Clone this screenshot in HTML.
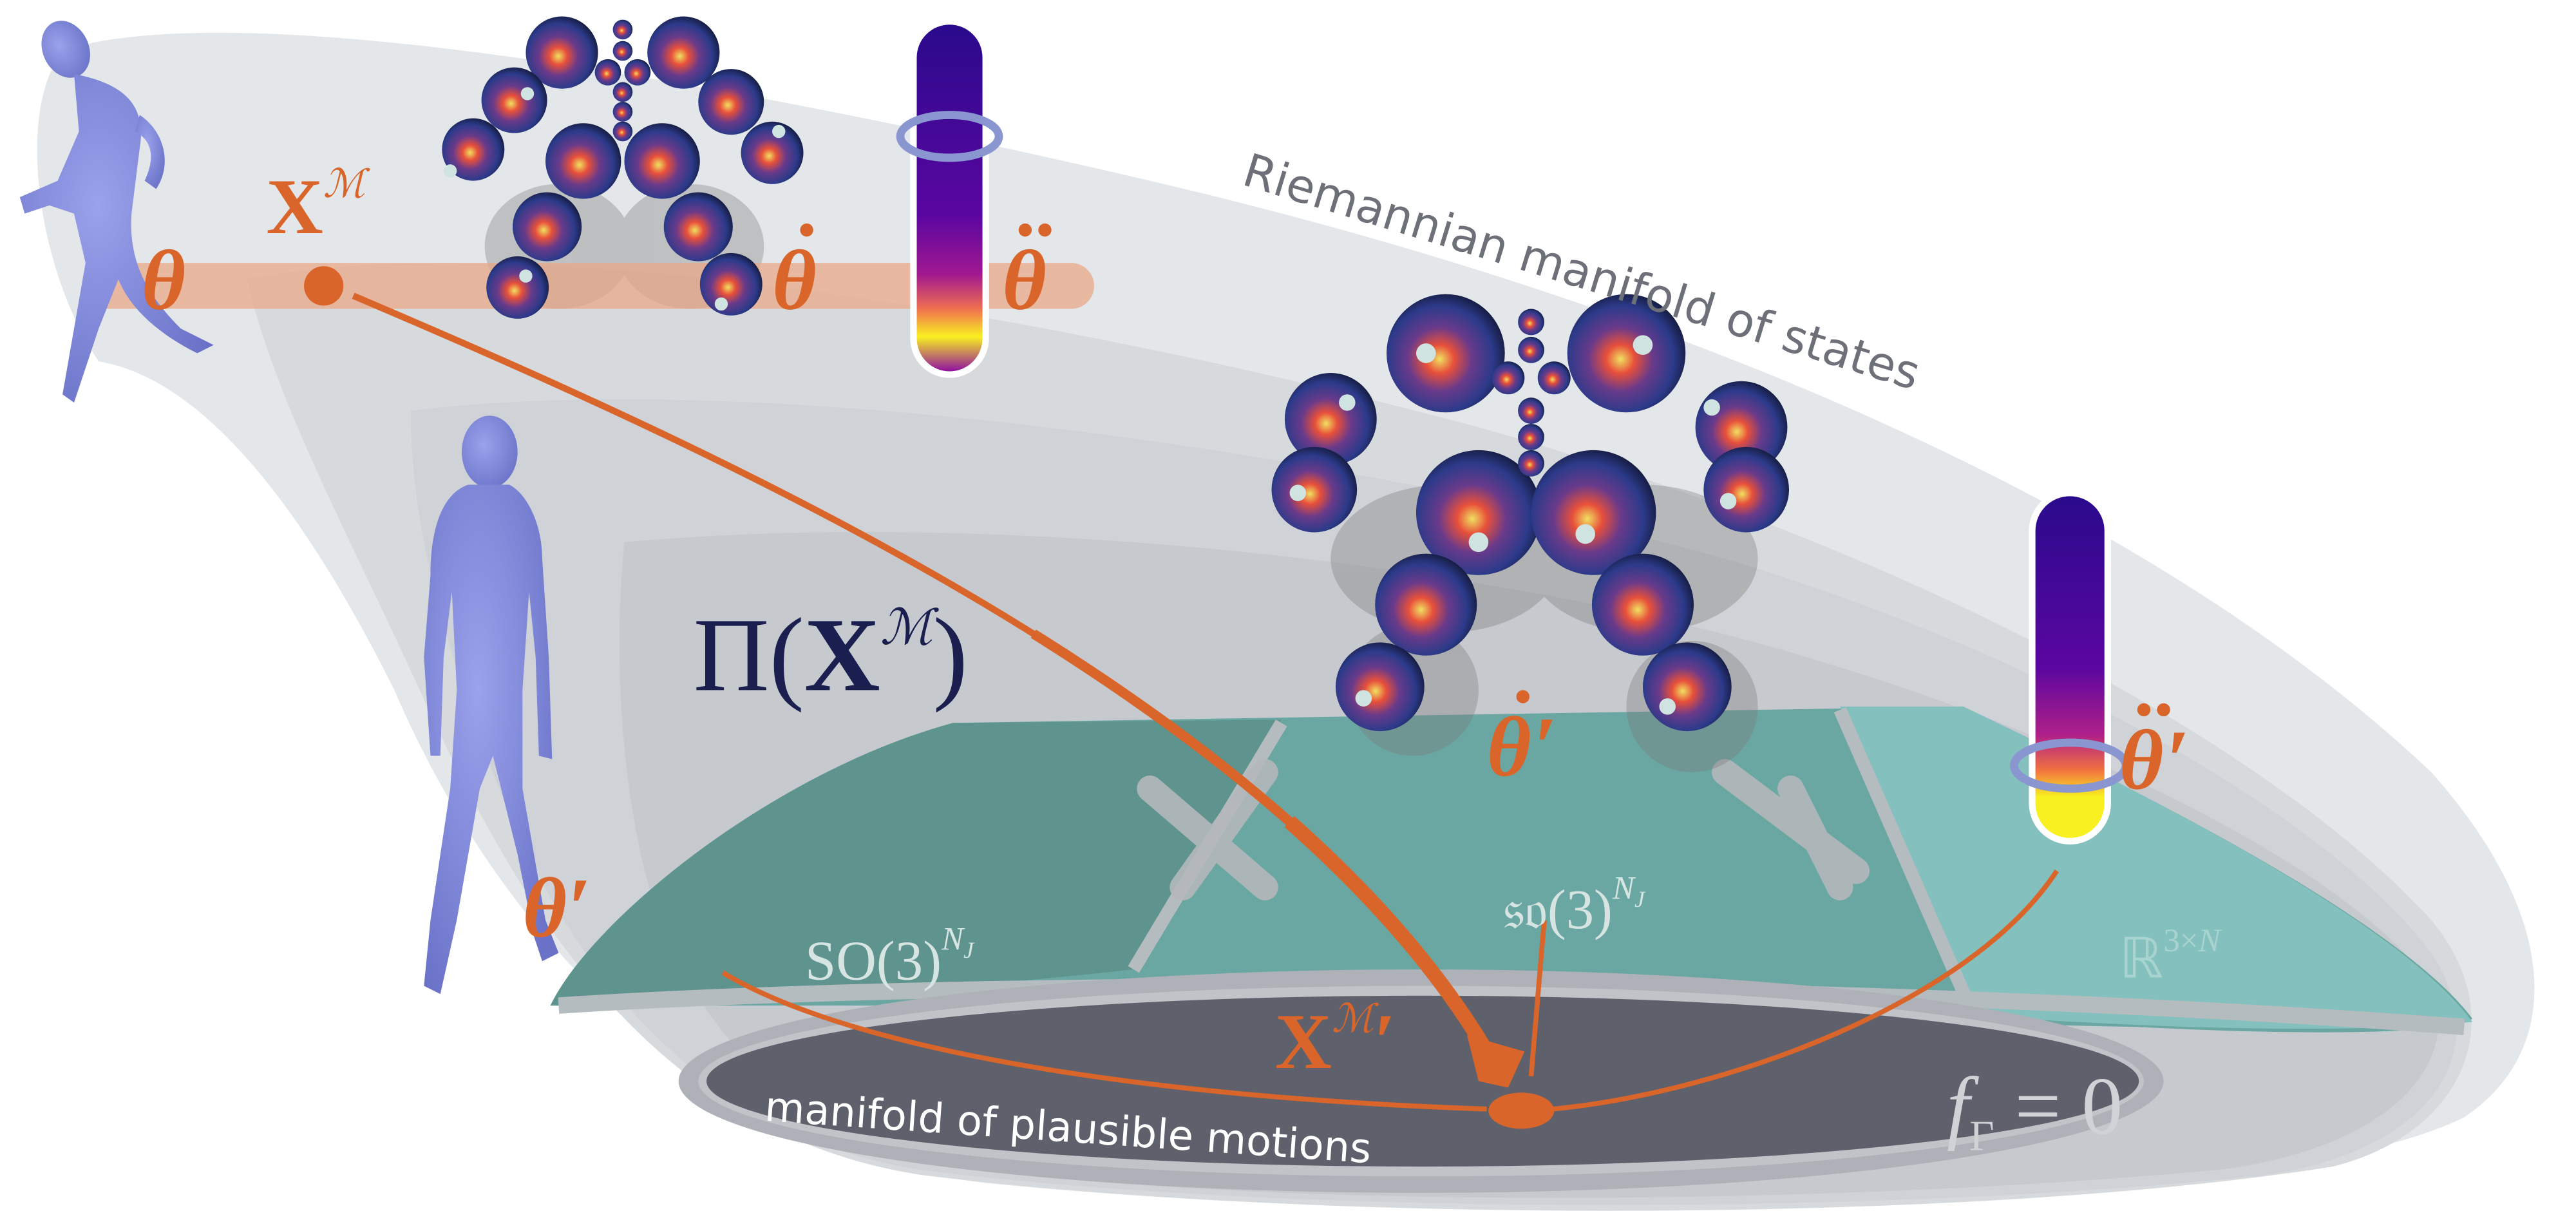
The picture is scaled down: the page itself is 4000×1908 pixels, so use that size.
<!DOCTYPE html>
<html><head><meta charset="utf-8"><style>
html,body{margin:0;padding:0;background:#fff;}
svg{display:block;}
</style></head><body>
<svg width="4000" height="1908" viewBox="0 0 1568 748" xmlns="http://www.w3.org/2000/svg">
<defs>
<radialGradient id="sph" cx="0.45" cy="0.55" r="0.6">
<stop offset="0" stop-color="#f0e060"/>
<stop offset="0.2" stop-color="#e8503a"/>
<stop offset="0.45" stop-color="#6a3a8a"/>
<stop offset="0.75" stop-color="#2c3a8a"/>
<stop offset="1" stop-color="#101630"/>
</radialGradient>
<linearGradient id="bar" x1="0" y1="0" x2="0" y2="1">
<stop offset="0" stop-color="#2a0a8c"/>
<stop offset="0.55" stop-color="#5a06a0"/>
<stop offset="0.72" stop-color="#a01890"/>
<stop offset="0.82" stop-color="#f07050"/>
<stop offset="0.9" stop-color="#f8f020"/>
<stop offset="1" stop-color="#9010a0"/>
</linearGradient>
<linearGradient id="bar2" x1="0" y1="0" x2="0" y2="1">
<stop offset="0" stop-color="#2a0a8c"/>
<stop offset="0.5" stop-color="#5a06a0"/>
<stop offset="0.7" stop-color="#b02088"/>
<stop offset="0.8" stop-color="#f07040"/>
<stop offset="0.88" stop-color="#f8f020"/>
<stop offset="1" stop-color="#f8f020"/>
</linearGradient>
<radialGradient id="body" cx="0.4" cy="0.4" r="0.7">
<stop offset="0" stop-color="#9aa2ec"/>
<stop offset="1" stop-color="#6a72c8"/>
</radialGradient>
</defs>

<!-- manifold layers -->
<path d="M40,30 C140,0 400,40 700,110 C1000,180 1300,300 1480,470 C1560,560 1560,640 1500,680 C1380,740 900,750 600,720 C420,700 300,560 240,420 C180,300 120,230 60,220 C20,160 10,60 40,30 Z" fill="#e4e7ea"/>
<path d="M150,170 C300,140 600,180 900,260 C1150,330 1380,450 1480,560 C1530,620 1500,690 1420,710 C1200,745 800,745 560,715 C400,690 320,560 260,430 C210,320 170,250 150,170 Z" fill="#d7dadd"/>
<path d="M250,250 C450,225 800,270 1050,340 C1250,400 1420,500 1480,580 C1520,640 1480,700 1380,715 C1150,740 780,740 560,712 C420,690 340,580 300,470 C270,390 250,320 250,250 Z" fill="#cfd2d6"/>
<path d="M380,330 C600,310 900,340 1100,400 C1300,460 1440,540 1480,600 C1500,650 1450,700 1350,712 C1100,735 760,735 580,710 C470,690 410,610 390,520 C375,450 375,380 380,330 Z" fill="#c6c9ce"/>
<!-- teal region -->
<path d="M335,612 C360,560 470,470 580,440 L1195,430 C1300,480 1460,560 1505,620 C1490,630 1400,630 1300,625 L700,612 Z" fill="#6aa7a2"/>
<path d="M335,612 C360,560 470,470 580,440 L780,438 L690,590 C600,600 450,612 335,612 Z" fill="#5e938e"/>
<path d="M1120,430 L1195,430 C1300,480 1460,560 1505,622 C1420,630 1300,625 1200,618 Z" fill="#84c0bd"/>
<path d="M340,612 C600,595 1100,595 1500,625" stroke="#b5bcbf" stroke-width="10" fill="none"/>
<path d="M690,590 L780,440 M1200,615 L1120,432" stroke="#b5bcbf" stroke-width="8" fill="none"/>
<!-- X icons -->
<g stroke="#b4b8bc" stroke-width="16" stroke-linecap="round" opacity="0.9">
<path d="M700,480 L770,540 M720,540 L770,470"/>
<path d="M1050,470 L1130,530 M1090,480 L1120,540"/>
</g>
<!-- plausible ellipse -->
<ellipse cx="865" cy="658" rx="452" ry="68" fill="#aeb1b7"/>
<ellipse cx="865" cy="658" rx="440" ry="58" fill="#c0c3c8"/>
<ellipse cx="866" cy="658" rx="436" ry="52" fill="#5e606c"/>

<!-- shadows -->
<g fill="#777" opacity="0.35">
<ellipse cx="340" cy="150" rx="45" ry="38"/><ellipse cx="420" cy="150" rx="45" ry="38"/>
<ellipse cx="880" cy="340" rx="70" ry="45"/><ellipse cx="1000" cy="340" rx="70" ry="45"/>
<ellipse cx="860" cy="420" rx="40" ry="40"/><ellipse cx="1030" cy="430" rx="40" ry="40"/>
</g>

<!-- orange band -->
<rect x="52" y="160" width="614" height="28" rx="14" fill="#e9a888" opacity="0.75"/>

<!-- bars -->
<rect x="554" y="11" width="48" height="219" rx="24" fill="#fff"/>
<rect x="558" y="15" width="40" height="211" rx="20" fill="url(#bar)"/>
<ellipse cx="578" cy="83" rx="30" ry="13" fill="none" stroke="#8a96d0" stroke-width="5"/>
<rect x="1235" y="298" width="50" height="216" rx="25" fill="#fff"/>
<rect x="1239" y="302" width="42" height="208" rx="21" fill="url(#bar2)"/>
<ellipse cx="1260" cy="466" rx="34" ry="14" fill="none" stroke="#8a96d0" stroke-width="5"/>

<!-- sphere cluster top -->
<g fill="url(#sph)">
<circle cx="342" cy="32" r="22"/><circle cx="416" cy="32" r="22"/>
<circle cx="313" cy="61" r="20"/><circle cx="445" cy="62" r="20"/>
<circle cx="288" cy="91" r="19"/><circle cx="470" cy="93" r="19"/>
<circle cx="355" cy="98" r="23"/><circle cx="403" cy="98" r="23"/>
<circle cx="333" cy="138" r="21"/><circle cx="425" cy="138" r="21"/>
<circle cx="315" cy="175" r="19"/><circle cx="445" cy="173" r="19"/>
<circle cx="379" cy="18" r="6"/><circle cx="379" cy="31" r="6"/>
<circle cx="370" cy="44" r="8"/><circle cx="388" cy="44" r="8"/>
<circle cx="379" cy="56" r="6"/><circle cx="379" cy="68" r="6"/><circle cx="379" cy="80" r="6"/>
</g>
<!-- big cluster -->
<g fill="url(#sph)">
<circle cx="880" cy="215" r="36"/><circle cx="990" cy="215" r="36"/>
<circle cx="810" cy="255" r="28"/><circle cx="1060" cy="260" r="28"/>
<circle cx="800" cy="298" r="26"/><circle cx="1063" cy="298" r="26"/>
<circle cx="900" cy="312" r="38"/><circle cx="970" cy="312" r="38"/>
<circle cx="868" cy="368" r="31"/><circle cx="1000" cy="368" r="31"/>
<circle cx="840" cy="418" r="27"/><circle cx="1027" cy="418" r="27"/>
<circle cx="932" cy="196" r="8"/><circle cx="932" cy="213" r="8"/>
<circle cx="918" cy="230" r="10"/><circle cx="946" cy="230" r="10"/>
<circle cx="932" cy="250" r="8"/><circle cx="932" cy="266" r="8"/><circle cx="932" cy="282" r="8"/>
</g>
<g fill="#cfe3e0">
<circle cx="868" cy="215" r="6"/><circle cx="1000" cy="210" r="6"/><circle cx="820" cy="245" r="5"/>
<circle cx="1042" cy="248" r="5"/><circle cx="790" cy="300" r="5"/><circle cx="1052" cy="305" r="5"/>
<circle cx="900" cy="330" r="6"/><circle cx="965" cy="325" r="6"/><circle cx="830" cy="425" r="5"/><circle cx="1015" cy="430" r="5"/>
<circle cx="321" cy="57" r="4"/><circle cx="474" cy="80" r="4"/><circle cx="274" cy="104" r="4"/><circle cx="320" cy="168" r="4"/><circle cx="439" cy="185" r="4"/>
</g>

<!-- human figures (stylized) -->
<g fill="url(#body)">
<ellipse cx="40" cy="30" rx="14" ry="18" transform="rotate(-25 40 30)"/>
<path d="M45,45 C70,50 90,60 85,90 L80,130 C78,160 90,180 110,200 L130,210 L120,215 C100,205 80,190 72,170 L60,200 L45,245 L38,240 L52,160 L45,130 L30,125 L15,130 L12,120 L35,110 L48,80 Z"/>
<path d="M85,70 C100,80 105,100 95,115 L88,110 C95,95 92,85 82,80 Z"/>
<ellipse cx="298" cy="275" rx="17" ry="22"/>
<path d="M285,295 C270,300 262,320 262,350 L258,400 L262,460 L268,460 L270,400 L275,360 L278,420 L274,480 L262,560 L258,600 L268,605 L278,560 L292,480 L300,460 L315,520 L325,570 L330,585 L340,580 L332,560 L318,480 L318,420 L322,360 L326,400 L328,460 L336,462 L334,400 L330,340 C330,318 320,300 310,295 Z"/>
</g>

<!-- orange connectors -->
<g fill="none" stroke="#d9652a">
<path d="M215,180 C450,280 780,430 905,640" pathLength="100" stroke-width="4"/>
<path d="M215,180 C450,280 780,430 905,640" pathLength="100" stroke-width="6" stroke-dasharray="0 55 45"/>
<path d="M215,180 C450,280 780,430 905,640" pathLength="100" stroke-width="9" stroke-dasharray="0 78 22"/>
</g>
<polygon points="893,630 928,640 918,662 900,658" fill="#d9652a"/>
<path d="M440,592 C520,640 700,668 905,675" stroke="#d9652a" stroke-width="3" fill="none"/>
<path d="M1252,530 C1200,610 1050,665 945,675" stroke="#d9652a" stroke-width="3" fill="none"/>
<path d="M940,560 L932,655" stroke="#d9652a" stroke-width="3" fill="none"/>
<ellipse cx="926" cy="676" rx="20" ry="11" fill="#d9652a"/>
<circle cx="197" cy="174" r="12" fill="#d9652a"/>

<!-- labels -->
<g font-family="Liberation Serif, serif" font-weight="bold" font-style="italic" fill="#d9652a" font-size="52">
<text x="86" y="188">θ</text>
<text x="470" y="188">θ</text><circle cx="491" cy="140" r="4"/>
<text x="610" y="188">θ</text><circle cx="624" cy="140" r="4"/><circle cx="636" cy="140" r="4"/>
<text x="318" y="570">θ′</text>
<text x="905" y="472">θ</text><circle cx="927" cy="424" r="4"/><text x="933" y="472">′</text>
<text x="1290" y="480">θ</text><circle cx="1305" cy="432" r="4"/><circle cx="1317" cy="432" r="4"/><text x="1318" y="480">′</text>
</g>
<text x="162" y="142" font-family="Liberation Serif, serif" font-weight="bold" font-size="48" fill="#d9652a">X<tspan font-size="24" font-style="italic" font-weight="normal" dy="-22">ℳ</tspan></text>
<text x="776" y="650" font-family="Liberation Serif, serif" font-weight="bold" font-size="48" fill="#d9652a">X<tspan font-size="24" font-style="italic" font-weight="normal" dy="-22">ℳ</tspan><tspan dy="22">′</tspan></text>
<text x="422" y="420" font-family="Liberation Serif, serif" font-size="64" fill="#1a1f4f">Π(<tspan font-weight="bold">X</tspan><tspan font-size="30" font-style="italic" dy="-28">ℳ</tspan><tspan dy="28">)</tspan></text>
<text x="755" y="112" font-family="DejaVu Sans, sans-serif" font-size="28" fill="#6d7079" transform="rotate(17 755 112)">Riemannian manifold of states</text>
<text x="465" y="682" font-family="DejaVu Sans, sans-serif" font-size="25" fill="#fff" transform="rotate(4 465 682)">manifold of plausible motions</text>
<text x="1185" y="690" font-family="Liberation Serif, serif" font-size="50" fill="#d0d2d6"><tspan font-style="italic">f</tspan><tspan font-size="26" dy="10">Γ</tspan><tspan dy="-10"> = 0</tspan></text>
<g font-family="Liberation Serif, serif" font-size="34" fill="#d6e4e2">
<text x="490" y="596">SO(3)<tspan font-size="20" font-style="italic" dy="-18">N<tspan font-size="14" dy="5">J</tspan></tspan></text>
<text x="915" y="565">𝔰𝔬(3)<tspan font-size="20" font-style="italic" dy="-18">N<tspan font-size="14" dy="5">J</tspan></tspan></text>
<text x="1290" y="595" fill="#a8d4d0">ℝ<tspan font-size="20" dy="-16">3×<tspan font-style="italic">N</tspan></tspan></text>
</g>
</svg>
</body></html>
